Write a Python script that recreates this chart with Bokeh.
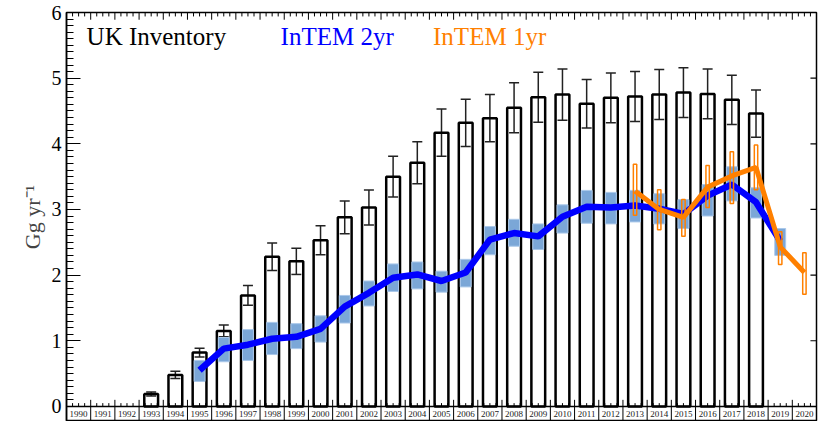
from bokeh.plotting import figure
from bokeh.models import Range1d, FixedTicker, Span, ColumnDataSource, Whisker, TeeHead
from bokeh.core.properties import value
from bokeh.embed import file_html
from bokeh.resources import INLINE

FONT = "Liberation Serif"

# ---------------- data ----------------
label_years = list(range(1990, 2021))

inv_years = list(range(1993, 2019))
inventory = [0.19, 0.48, 0.82, 1.15, 1.69, 2.28, 2.21, 2.53, 2.88, 3.03, 3.50, 3.71, 4.17,
             4.32, 4.39, 4.55, 4.71, 4.75, 4.61, 4.70, 4.72, 4.75, 4.78, 4.76, 4.67, 4.46]
inv_err = [0.03, 0.055, 0.066, 0.09, 0.15, 0.21, 0.20, 0.22, 0.25, 0.265, 0.31, 0.32, 0.36,
           0.36, 0.36, 0.38, 0.38, 0.39, 0.37, 0.38, 0.38, 0.38, 0.38, 0.38, 0.375, 0.36]

intem2_years = list(range(1995, 2020))
intem2 = [0.55, 0.88, 0.94, 1.03, 1.06, 1.18, 1.52, 1.73, 1.96, 2.01, 1.91, 2.04, 2.54,
          2.64, 2.59, 2.89, 3.04, 3.03, 3.06, 3.01, 2.93, 3.21, 3.38, 3.11, 2.52]
intem2_lo = [0.38, 0.68, 0.70, 0.79, 0.88, 0.98, 1.27, 1.53, 1.75, 1.79, 1.74, 1.82, 2.31,
             2.44, 2.39, 2.64, 2.79, 2.78, 2.81, 2.78, 2.71, 2.90, 3.13, 2.87, 2.30]
intem2_hi = [0.70, 1.05, 1.17, 1.28, 1.26, 1.38, 1.69, 1.91, 2.17, 2.20, 2.06, 2.24, 2.74,
             2.85, 2.78, 3.07, 3.29, 3.26, 3.29, 3.24, 3.15, 3.38, 3.65, 3.33, 2.71]

intem1_years = list(range(2013, 2021))
intem1 = [3.28, 3.00, 2.88, 3.34, 3.51, 3.64, 2.43, 2.04]
intem1_lo = [2.91, 2.69, 2.59, 3.03, 3.09, 3.30, 2.16, 1.71]
intem1_hi = [3.69, 3.30, 3.15, 3.67, 3.88, 3.98, 2.66, 2.34]

y_ticks = [0, 1, 2, 3, 4, 5, 6]
legend_labels = ["UK Inventory", "InTEM 2yr", "InTEM 1yr"]

# ---------------- derived ----------------
boundaries = [y - 0.5 for y in label_years] + [label_years[-1] + 0.5]
quarters = [y + d for y in label_years for d in (-0.25, 0.0, 0.25)]
STRIP = -0.23
Y_TOP = y_ticks[-1]
X0, X1 = boundaries[0], boundaries[-1]

p = figure(width=818, height=421, output_backend="svg", toolbar_location=None,
           x_range=Range1d(X0, X1), y_range=Range1d(STRIP, Y_TOP),
           x_axis_location=None,
           min_border_left=66, min_border_right=2, min_border_top=12, min_border_bottom=0)
p.outline_line_color = "black"
p.outline_line_width = 1.5
p.xgrid.visible = False
p.ygrid.visible = False

# left axis
ya = p.yaxis[0]
ya.ticker = FixedTicker(ticks=y_ticks, minor_ticks=[i / 10 for i in range(0, 61)])
ya.major_tick_in = 14
ya.major_tick_out = 0
ya.minor_tick_in = 7
ya.minor_tick_out = 0
ya.major_label_text_font = FONT
ya.major_label_text_font_size = "20px"
ya.major_label_text_color = "black"
ya.major_label_standoff = 5
ya.axis_label = "Gg yr\u207b\u00b9"
ya.axis_label_text_font = FONT
ya.axis_label_text_font_size = "22px"
ya.axis_label_text_font_style = "normal"
ya.axis_label_standoff = 4
ya.axis_line_width = 1.5

inner = y_ticks[1:-1]
# top ticks (inward)
p.segment(x0=boundaries, y0=[Y_TOP] * len(boundaries), x1=boundaries,
          y1=[Y_TOP - 0.11] * len(boundaries), line_color="black", line_width=1)
p.segment(x0=quarters, y0=[Y_TOP] * len(quarters), x1=quarters,
          y1=[Y_TOP - 0.06] * len(quarters), line_color="black", line_width=1)
# right ticks (inward)
p.segment(x0=[X1 - 0.25] * len(inner), y0=inner, x1=[X1] * len(inner), y1=inner,
          line_color="black", line_width=1.2)

# year label strip
p.add_layout(Span(location=0, dimension="width", line_color="black", line_width=1.5))
p.segment(x0=boundaries, y0=[STRIP] * len(boundaries), x1=boundaries, y1=[0.1] * len(boundaries),
          line_color="black", line_width=1)
p.segment(x0=quarters, y0=[0] * len(quarters), x1=quarters, y1=[0.05] * len(quarters),
          line_color="black", line_width=1)
p.text(x=label_years, y=[STRIP / 2] * len(label_years), text=[str(y) for y in label_years],
       text_font=value(FONT), text_font_size="9px", text_align="center",
       text_baseline="middle", text_color="#222222")

# inventory bars
inv_src = ColumnDataSource(dict(x=inv_years, top=inventory,
                                lo=[v - e for v, e in zip(inventory, inv_err)],
                                hi=[v + e for v, e in zip(inventory, inv_err)]))
p.vbar(x="x", top="top", bottom=0, width=0.57, source=inv_src, fill_color=None,
       line_color="black", line_width=2.5)

# InTEM 2yr
p.vbar(x=intem2_years, bottom=intem2_lo, top=intem2_hi, width=0.45,
       fill_color="#7ba7d7", line_color="#aac8ea", line_width=1)
p.line(x=intem2_years, y=intem2, line_color="#0000ff", line_width=6.5)

# error bars of inventory
p.add_layout(Whisker(source=inv_src, base="x", lower="lo", upper="hi", dimension="height",
                     line_color="#222222", line_width=1.5,
                     upper_head=TeeHead(size=10, line_color="#222222", line_width=1.5),
                     lower_head=TeeHead(size=10, line_color="#222222", line_width=1.5)))

# InTEM 1yr
p.vbar(x=intem1_years, bottom=intem1_lo, top=intem1_hi, width=0.14,
       fill_color=None, line_color="#ff8000", line_width=1.5)
p.line(x=intem1_years, y=intem1, line_color="#ff8000", line_width=5)

# text legend
leg_x = [1990.33, 1998.35, 2004.65]
leg_colors = ["black", "#0000ff", "#ff8000"]
p.text(x=leg_x, y=[5.63] * 3, text=legend_labels, text_color=leg_colors,
       text_font=value(FONT), text_font_size="25px", text_align="left", text_baseline="middle")

open("out.html", "w").write(file_html(p, INLINE))
